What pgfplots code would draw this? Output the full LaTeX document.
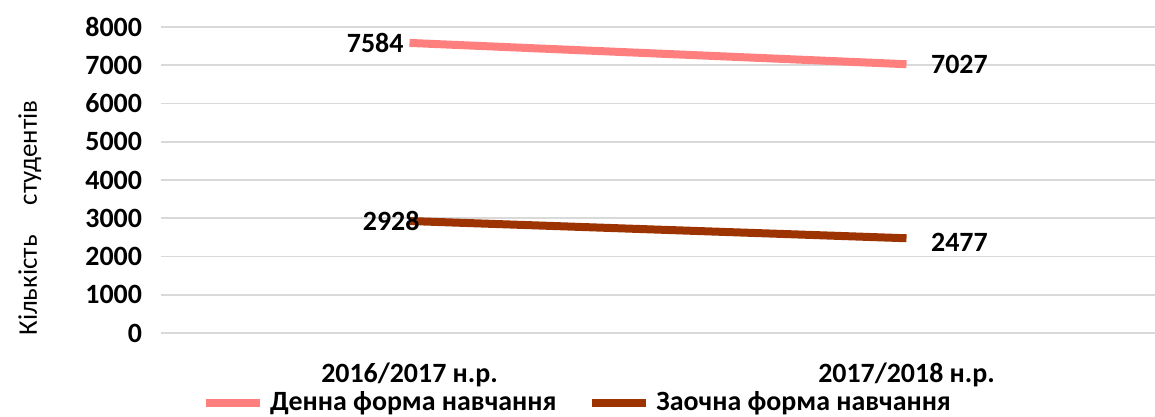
\documentclass[border=0pt]{standalone}
\usepackage{fontspec}
\setmainfont{Carlito}
\usepackage{pgfplots}
\pgfplotsset{compat=1.18}

\definecolor{denna}{HTML}{FF7F7F}
\definecolor{zaochna}{HTML}{9C3300}
\definecolor{gridc}{HTML}{D9D9D9}

\newcommand{\lbl}{\bfseries\fontsize{14}{16}\selectfont}

\begin{document}
\begin{tikzpicture}
\path[use as bounding box] (-80.5bp,-42bp) rectangle (497bp,166.5bp);
\begin{axis}[at={(0,0)}, anchor=south west,
  scale only axis, width=497bp, height=153bp,
  xmin=-0.5, xmax=1.5, ymin=0, ymax=8000,
  xtick={0,1}, xticklabels={2016/2017 н.р., 2017/2018 н.р.},
  ytick={0,1000,...,8000},
  ymajorgrids, major grid style={gridc, line width=0.8bp},
  axis line style={draw=none}, tick style={draw=none},
  /pgf/number format/assume math mode=true,
  /pgf/number format/1000 sep={},
  ticklabel style={font=\lbl},
  xticklabel style={yshift=-11.5bp},
  yticklabel style={xshift=-6bp},
  ylabel={Кількість\hspace{15bp}студентів},
  ylabel style={at={(axis description cs:-0.132,0.376)}, anchor=center, font=\fontsize{13.5}{16}\selectfont},
  legend columns=2,
  legend style={draw=none, at={(axis description cs:0.42,-0.228)}, anchor=center,
    font=\lbl, column sep=1bp, inner sep=0bp,
    /tikz/every even column/.append style={column sep=14bp}},
  legend image code/.code={\draw[#1, line width=4bp] (0bp,0bp) -- (27bp,0bp);},
]
\addplot[denna, line width=4bp, line cap=butt] coordinates {(0,7584) (1,7027)}
  node[pos=0, anchor=east, inner sep=1bp, font=\lbl, text=black] {7584}
  node[pos=1, anchor=west, xshift=7bp, font=\lbl, text=black] {7027};
\addlegendentry{Денна форма навчання}
\addplot[zaochna, line width=4bp, line cap=butt] coordinates {(0,2928) (1,2477)}
  node[pos=0, anchor=east, xshift=7bp, inner sep=0bp, font=\lbl, text=black] {2928}
  node[pos=1, anchor=west, xshift=7bp, yshift=-2bp, font=\lbl, text=black] {2477};
\addlegendentry{Заочна форма навчання}
\end{axis}
\end{tikzpicture}
\end{document}
